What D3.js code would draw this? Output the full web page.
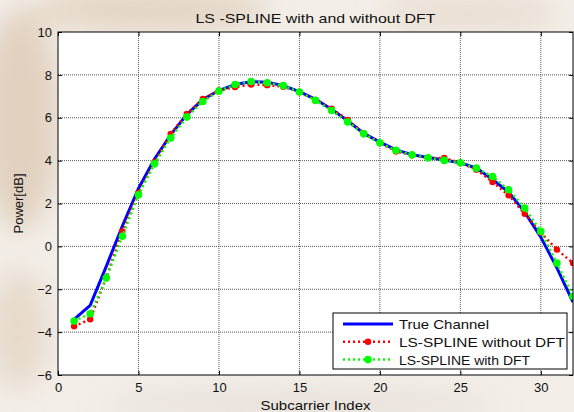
<!DOCTYPE html>
<html>
<head>
<meta charset="utf-8">
<script src="https://cdn.jsdelivr.net/npm/d3@7"></script>
<style>
  body { margin: 0; background: #f3eee8; }
  svg { display: block; font-family: Arial, "Liberation Sans", sans-serif; }
</style>
</head>
<body>
<div id="chart"></div>
<script>
// Data
var subcarrier = [1,2,3,4,5,6,7,8,9,10,11,12,13,14,15,16,17,18,19,20,21,22,23,24,25,26,27,28,29,30,31,32];
var trueChannel = [-3.4,-2.75,-0.93,0.95,2.7,4.08,5.2,6.15,6.85,7.27,7.55,7.68,7.66,7.5,7.22,6.86,
  6.4,5.86,5.27,4.86,4.5,4.28,4.15,4.03,3.9,3.65,3.12,2.53,1.6,0.43,-1.0,-2.6];
var withoutDft = [-3.73,-3.4,-1.45,0.7,2.49,3.93,5.25,6.18,6.88,7.27,7.43,7.55,7.52,7.45,7.2,6.83,
  6.42,5.9,5.28,4.83,4.43,4.25,4.12,4.12,3.9,3.58,3.0,2.38,1.52,0.65,-0.15,-0.78];
var withDft = [-3.48,-3.14,-1.48,0.47,2.41,3.85,5.05,6.03,6.76,7.24,7.55,7.69,7.63,7.5,7.2,6.81,
  6.34,5.8,5.25,4.83,4.48,4.27,4.13,4.01,3.9,3.65,3.26,2.64,1.79,0.7,-0.78,-2.33];
var xTicks = [0,5,10,15,20,25,30];
var yTicks = [-6,-4,-2,0,2,4,6,8,10];
var seriesNames = ["True Channel", "LS-SPLINE without DFT", "LS-SPLINE with DFT"];

// Layout
var W = 574, H = 412;
var margin = { top: 32, right: 1, bottom: 37, left: 58 };
var width = W - margin.left - margin.right,
  height = H - margin.top - margin.bottom;

var svg = d3.select("#chart").append("svg")
  .attr("width", W)
  .attr("height", H);

// faint watermark-ish background
var defs = svg.append("defs");
defs.append("filter").attr("id", "blur")
  .append("feGaussianBlur").attr("stdDeviation", 14);
defs.append("clipPath").attr("id", "plotclip")
  .append("rect").attr("width", width).attr("height", height);

var wm = svg.append("g").attr("filter", "url(#blur)").attr("opacity", 0.6);
wm.append("ellipse").attr("cx", 20).attr("cy", 120).attr("rx", 40).attr("ry", 110).attr("fill", "#d6bea4");
wm.append("ellipse").attr("cx", 150).attr("cy", 10).attr("rx", 120).attr("ry", 22).attr("fill", "#dac4ac");
wm.append("ellipse").attr("cx", 470).attr("cy", 14).attr("rx", 90).attr("ry", 18).attr("fill", "#e2d3c2");
wm.append("ellipse").attr("cx", 18).attr("cy", 330).attr("rx", 30).attr("ry", 60).attr("fill", "#dfcdb9");
wm.append("ellipse").attr("cx", 300).attr("cy", 405).attr("rx", 200).attr("ry", 12).attr("fill", "#dcd4cc");

var g = svg.append("g")
  .attr("transform", "translate(" + margin.left + "," + margin.top + ")");

var x = d3.scaleLinear().domain([0, 32]).range([0, width]);
var y = d3.scaleLinear().domain([-6, 10]).range([height, 0]);

g.append("rect")
  .attr("width", width)
  .attr("height", height)
  .attr("fill", "#fff");

// grid
g.append("g").selectAll("line").data(xTicks.slice(1))
  .enter().append("line")
  .attr("x1", function(d) { return x(d); }).attr("x2", function(d) { return x(d); })
  .attr("y1", 0).attr("y2", height)
  .attr("stroke", "#555").attr("stroke-width", 1).attr("stroke-dasharray", "1,1");
g.append("g").selectAll("line").data(yTicks.slice(1, -1))
  .enter().append("line")
  .attr("y1", function(d) { return y(d); }).attr("y2", function(d) { return y(d); })
  .attr("x1", 0).attr("x2", width)
  .attr("stroke", "#555").attr("stroke-width", 1).attr("stroke-dasharray", "1,1");

// axes (ticks inward, MATLAB style)
g.append("g")
  .attr("transform", "translate(0," + height + ")")
  .call(d3.axisBottom(x).tickValues(xTicks).tickSize(-4).tickPadding(8))
  .call(function(a) { a.select(".domain").remove(); });
g.append("g")
  .call(d3.axisLeft(y).tickValues(yTicks).tickSize(-4).tickPadding(6))
  .call(function(a) { a.select(".domain").remove(); });
g.append("g")
  .call(d3.axisTop(x).tickValues(xTicks).tickSize(-4).tickFormat(""))
  .call(function(a) { a.select(".domain").remove(); });
g.append("g")
  .attr("transform", "translate(" + width + ",0)")
  .call(d3.axisRight(y).tickValues(yTicks).tickSize(-4).tickFormat(""))
  .call(function(a) { a.select(".domain").remove(); });
g.selectAll(".tick text").attr("font-size", 13).attr("fill", "#111")
  .attr("font-family", "Arial, 'Liberation Sans', sans-serif");
g.selectAll(".tick line").attr("stroke", "#000");

// series
var plot = g.append("g").attr("clip-path", "url(#plotclip)");
function pts(vals) { return subcarrier.map(function(s, i) { return [s, vals[i]]; }); }
var line = d3.line().x(function(d) { return x(d[0]); }).y(function(d) { return y(d[1]); });

plot.append("path").datum(pts(trueChannel))
  .attr("d", line).attr("fill", "none")
  .attr("stroke", "#0000ff").attr("stroke-width", 3);

plot.append("path").datum(pts(withoutDft))
  .attr("d", line).attr("fill", "none")
  .attr("stroke", "#ff0000").attr("stroke-width", 2.5).attr("stroke-dasharray", "2,3");
plot.append("g").selectAll("circle").data(pts(withoutDft))
  .enter().append("circle")
  .attr("cx", function(d) { return x(d[0]); }).attr("cy", function(d) { return y(d[1]); })
  .attr("r", 3.2).attr("fill", "#ff0000");

plot.append("path").datum(pts(withDft))
  .attr("d", line).attr("fill", "none")
  .attr("stroke", "#00ff00").attr("stroke-width", 2.5).attr("stroke-dasharray", "2,3");
plot.append("g").selectAll("circle").data(pts(withDft))
  .enter().append("circle")
  .attr("cx", function(d) { return x(d[0]); }).attr("cy", function(d) { return y(d[1]); })
  .attr("r", 3.8).attr("fill", "#00ff00");

// frame
g.append("rect")
  .attr("width", width).attr("height", height)
  .attr("fill", "none").attr("stroke", "#000").attr("stroke-width", 1);

// title and labels
svg.append("text")
  .attr("x", margin.left + width / 2).attr("y", 23)
  .attr("text-anchor", "middle").attr("font-size", 13).attr("fill", "#111")
  .attr("textLength", 240).attr("lengthAdjust", "spacingAndGlyphs")
  .text("LS -SPLINE with and without DFT");
svg.append("text")
  .attr("x", margin.left + width / 2).attr("y", 410)
  .attr("text-anchor", "middle").attr("font-size", 13).attr("fill", "#111")
  .attr("textLength", 110).attr("lengthAdjust", "spacingAndGlyphs")
  .text("Subcarrier Index");
svg.append("text")
  .attr("transform", "translate(23," + (margin.top + height / 2) + ") rotate(-90)")
  .attr("text-anchor", "middle").attr("font-size", 13).attr("fill", "#111")
  .text("Power[dB]");

// legend
var legend = g.append("g").attr("transform", "translate(" + (333 - margin.left) + "," + (313 - margin.top) + ")");
legend.append("rect")
  .attr("width", 234).attr("height", 56)
  .attr("fill", "#fff").attr("stroke", "#000").attr("stroke-width", 1);
var legendLens = [90, 166, 131];
var legendColors = ["#0000ff", "#ff0000", "#00ff00"];
var rows = legend.selectAll("g.item").data(seriesNames)
  .enter().append("g").attr("class", "item")
  .attr("transform", function(d, i) { return "translate(0," + (11 + i * 17.8) + ")"; });
rows.append("line")
  .attr("x1", 10).attr("x2", 60)
  .attr("stroke", function(d, i) { return legendColors[i]; })
  .attr("stroke-width", function(d, i) { return i === 0 ? 3 : 2.5; })
  .attr("stroke-dasharray", function(d, i) { return i === 0 ? null : "2,3"; });
rows.filter(function(d, i) { return i > 0; }).append("circle")
  .attr("cx", 35).attr("r", function(d, i) { return i === 0 ? 3.2 : 3.8; })
  .attr("fill", function(d, i) { return legendColors[i + 1]; });
rows.append("text")
  .attr("x", 66).attr("y", 5)
  .attr("font-size", 13).attr("fill", "#111")
  .attr("textLength", function(d, i) { return legendLens[i]; })
  .attr("lengthAdjust", "spacingAndGlyphs")
  .text(function(d) { return d; });
</script>
</body>
</html>
